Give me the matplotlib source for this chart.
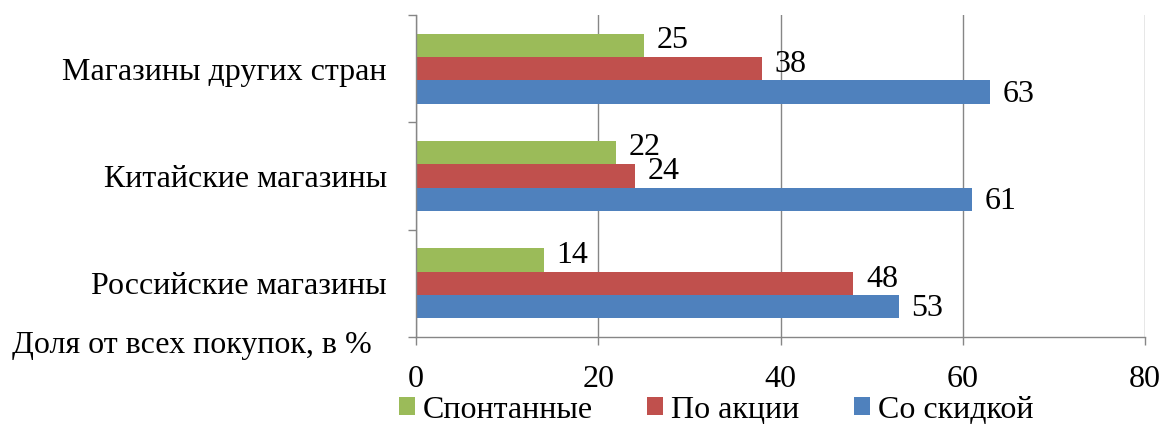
import matplotlib
matplotlib.use("Agg")
import matplotlib.pyplot as plt
import numpy as np
from matplotlib.patches import Patch

plt.rcParams['font.family'] = ['Liberation Serif', 'DejaVu Serif']

categories = ["Российские магазины", "Китайские магазины", "Магазины других стран"]
series_names = ["Спонтанные", "По акции", "Со скидкой"]
spontaneous = [14, 22, 25]
promo = [48, 24, 38]
discount = [53, 61, 63]
x_ticks = [0, 20, 40, 60, 80]
x_title = "Доля от всех покупок, в %"

colors = {"Спонтанные": "#9BBB59", "По акции": "#C0504D", "Со скидкой": "#4F81BD"}
grid_gray = "#868686"
FS = 23

fig = plt.figure(figsize=(11.65, 4.25), dpi=100)
ax = fig.add_axes([416 / 1165, 1 - 337 / 425, (1145 - 416) / 1165, (337 - 15) / 425])

y = np.arange(len(categories))
h = 0.218
offsets = {"Со скидкой": -h, "По акции": 0.0, "Спонтанные": h}
label_dy = {"Со скидкой": -1.5, "По акции": 3.0, "Спонтанные": 3.5}  # points
values = {"Спонтанные": spontaneous, "По акции": promo, "Со скидкой": discount}

for name in ["Со скидкой", "По акции", "Спонтанные"]:
    vals = values[name]
    bars = ax.barh(y + offsets[name], vals, height=h, color=colors[name], zorder=3)
    for b, v in zip(bars, vals):
        ax.annotate(str(v), xy=(b.get_width(), b.get_y() + b.get_height() / 2),
                    xytext=(9, label_dy[name]), textcoords="offset points",
                    va="center", ha="left", fontsize=FS, zorder=4)

ax.set_xlim(0, 80)
ax.set_ylim(-0.5, len(categories) - 0.5)
ax.set_xticks(x_ticks)
ax.set_xticklabels([str(t) for t in x_ticks], fontsize=FS)
ax.tick_params(axis="x", direction="out", length=6, width=1, color=grid_gray, pad=14)

# category boundaries as major ticks, names as minor ticks at centres
ax.set_yticks(np.arange(-0.5, len(categories), 1.0))
ax.set_yticklabels([])
ax.tick_params(axis="y", which="major", direction="out", length=6, width=1, color=grid_gray)
ax.set_yticks(y, minor=True)
ax.set_yticklabels(categories, minor=True, fontsize=FS)
ax.tick_params(axis="y", which="minor", length=0, pad=21)

ax.xaxis.grid(True, color=grid_gray, linewidth=1, zorder=0)
for s in ["top", "right"]:
    ax.spines[s].set_visible(False)
for s in ["left", "bottom"]:
    ax.spines[s].set_color(grid_gray)
    ax.spines[s].set_linewidth(1)
    ax.spines[s].set_zorder(5)

fig.text(12 / 1165, 1 - 345 / 425, x_title, fontsize=FS, ha="left", va="center")

handles = [Patch(facecolor=colors[n], edgecolor="none") for n in series_names]
fig.legend(handles, series_names, loc="center", ncol=3, frameon=False, fontsize=FS,
           bbox_to_anchor=(716 / 1165, 1 - 410 / 425), borderpad=0.1,
           handlelength=0.5, handleheight=0.5, handletextpad=0.25, columnspacing=1.7)

fig.savefig("out.png", dpi=100)
